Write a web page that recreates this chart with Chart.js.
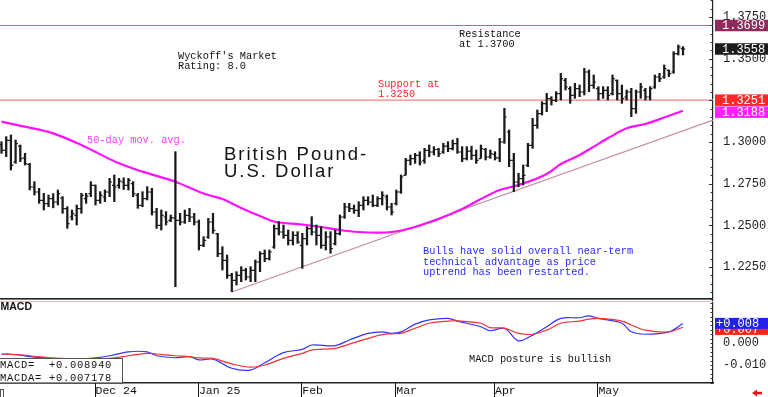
<!DOCTYPE html>
<html>
<head>
<meta charset="utf-8">
<title>British Pound - U.S. Dollar</title>
<script src="https://cdn.jsdelivr.net/npm/chart.js@4"></script>
<style>
  html, body { margin: 0; padding: 0; background: #fff; }
  #wrap { position: relative; width: 768px; height: 397px; overflow: hidden; }
  #priceChart { position: absolute; left: 0; top: 0; }
  #macdChart { position: absolute; left: 0; top: 298px; }
</style>
</head>
<body>
<div id="wrap">
  <canvas id="priceChart" width="768" height="298"></canvas>
  <canvas id="macdChart" width="768" height="99"></canvas>
</div>
<script>
// daily bars, Nov 4 2024 .. May 23 2025 (index = trading day)
const highs = [
  1.3002,1.3032,1.3042,1.3012,1.2982,1.2932,1.2872,1.2762,1.2722,1.2692,
  1.2682,1.2690,1.2712,1.2672,1.2612,1.2592,1.2622,1.2692,1.2692,1.2762,
  1.2742,1.2702,1.2712,1.2782,1.2802,1.2782,1.2785,1.2782,1.2762,1.2692,
  1.2702,1.2732,1.2722,1.2602,1.2592,1.2582,1.2562,1.2942,1.2572,1.2592,
  1.2602,1.2572,1.2532,1.2432,1.2542,1.2572,1.2452,1.2372,1.2322,1.2212,
  1.2222,1.2252,1.2242,1.2252,1.2292,1.2342,1.2352,1.2352,1.2502,1.2522,
  1.2502,1.2472,1.2462,1.2462,1.2452,1.2492,1.2552,1.2502,1.2492,1.2462,
  1.2462,1.2472,1.2562,1.2632,1.2632,1.2622,1.2642,1.2672,1.2672,1.2682,
  1.2672,1.2702,1.2682,1.2632,1.2712,1.2802,1.2902,1.2922,1.2932,1.2942,
  1.2962,1.2982,1.2972,1.2962,1.2992,1.3002,1.3012,1.3022,1.2972,1.2972,
  1.2975,1.2952,1.2982,1.2962,1.2952,1.2942,1.3022,1.3202,1.3072,1.2932,
  1.2812,1.2862,1.2992,1.3142,1.3192,1.3242,1.3292,1.3272,1.3302,1.3412,
  1.3382,1.3332,1.3352,1.3342,1.3442,1.3432,1.3402,1.3332,1.3332,1.3332,
  1.3402,1.3372,1.3342,1.3312,1.3322,1.3312,1.3352,1.3322,1.3332,1.3402,
  1.3412,1.3462,1.3432,1.3542,1.3582,1.3572
];
const lows = [
  1.2932,1.2912,1.2832,1.2872,1.2882,1.2862,1.2712,1.2682,1.2632,1.2592,
  1.2612,1.2605,1.2622,1.2572,1.2482,1.2532,1.2502,1.2572,1.2632,1.2672,
  1.2622,1.2632,1.2642,1.2672,1.2642,1.2722,1.2715,1.2712,1.2672,1.2602,
  1.2612,1.2652,1.2562,1.2482,1.2472,1.2502,1.2522,1.2132,1.2502,1.2512,
  1.2522,1.2502,1.2352,1.2372,1.2422,1.2452,1.2312,1.2232,1.2182,1.2102,
  1.2142,1.2162,1.2172,1.2162,1.2162,1.2222,1.2282,1.2292,1.2362,1.2442,
  1.2422,1.2382,1.2382,1.2392,1.2242,1.2382,1.2442,1.2382,1.2362,1.2352,
  1.2332,1.2382,1.2442,1.2542,1.2582,1.2572,1.2552,1.2592,1.2622,1.2612,
  1.2612,1.2622,1.2592,1.2562,1.2622,1.2692,1.2802,1.2862,1.2872,1.2862,
  1.2872,1.2912,1.2922,1.2912,1.2932,1.2942,1.2952,1.2932,1.2882,1.2892,
  1.2895,1.2872,1.2902,1.2892,1.2902,1.2892,1.2882,1.2992,1.2852,1.2702,
  1.2732,1.2742,1.2852,1.2962,1.3082,1.3162,1.3182,1.3222,1.3242,1.3252,
  1.3312,1.3232,1.3262,1.3272,1.3282,1.3302,1.3322,1.3252,1.3262,1.3252,
  1.3282,1.3252,1.3232,1.3252,1.3152,1.3172,1.3262,1.3252,1.3252,1.3322,
  1.3362,1.3382,1.3392,1.3412,1.3522,1.3522
];
const opens = [
  1.2985,1.2950,1.3010,1.2880,1.2975,1.2905,1.2865,1.2730,1.2700,1.2650,
  1.2630,1.2660,1.2640,1.2665,1.2600,1.2550,1.2560,1.2600,1.2660,1.2690,
  1.2740,1.2650,1.2670,1.2700,1.2740,1.2740,1.2760,1.2740,1.2750,1.2680,
  1.2620,1.2660,1.2700,1.2580,1.2500,1.2550,1.2530,1.2545,1.2530,1.2520,
  1.2560,1.2550,1.2520,1.2380,1.2430,1.2520,1.2450,1.2330,1.2290,1.2200,
  1.2170,1.2200,1.2230,1.2190,1.2230,1.2280,1.2330,1.2300,1.2370,1.2480,
  1.2460,1.2440,1.2410,1.2440,1.2380,1.2420,1.2480,1.2460,1.2440,1.2380,
  1.2430,1.2390,1.2450,1.2550,1.2610,1.2600,1.2590,1.2620,1.2650,1.2640,
  1.2620,1.2660,1.2670,1.2610,1.2630,1.2700,1.2800,1.2890,1.2900,1.2920,
  1.2890,1.2950,1.2940,1.2955,1.2940,1.2975,1.2960,1.2990,1.2940,1.2900,
  1.2945,1.2920,1.2900,1.2955,1.2910,1.2925,1.2905,1.3000,1.3060,1.2890,
  1.2760,1.2780,1.2860,1.2980,1.3100,1.3170,1.3230,1.3260,1.3250,1.3290,
  1.3370,1.3320,1.3280,1.3320,1.3300,1.3420,1.3340,1.3320,1.3290,1.3310,
  1.3290,1.3370,1.3290,1.3270,1.3300,1.3200,1.3300,1.3310,1.3270,1.3330,
  1.3390,1.3390,1.3430,1.3420,1.3530,1.3560
];
const closes = [
  1.2950,1.3010,1.2860,1.2990,1.2900,1.2870,1.2730,1.2700,1.2650,1.2630,
  1.2660,1.2640,1.2690,1.2600,1.2510,1.2570,1.2600,1.2680,1.2675,1.2740,
  1.2650,1.2680,1.2700,1.2760,1.2730,1.2765,1.2740,1.2770,1.2690,1.2620,
  1.2660,1.2700,1.2580,1.2500,1.2560,1.2520,1.2545,1.2530,1.2520,1.2560,
  1.2550,1.2520,1.2380,1.2410,1.2520,1.2470,1.2330,1.2290,1.2200,1.2170,
  1.2200,1.2230,1.2190,1.2230,1.2280,1.2330,1.2300,1.2340,1.2480,1.2460,
  1.2440,1.2410,1.2440,1.2400,1.2420,1.2480,1.2460,1.2440,1.2380,1.2430,
  1.2360,1.2450,1.2550,1.2610,1.2600,1.2590,1.2620,1.2650,1.2640,1.2620,
  1.2660,1.2680,1.2610,1.2580,1.2700,1.2790,1.2890,1.2900,1.2920,1.2880,
  1.2950,1.2940,1.2955,1.2930,1.2975,1.2960,1.2990,1.2940,1.2900,1.2945,
  1.2920,1.2890,1.2960,1.2910,1.2930,1.2905,1.3000,1.3150,1.2890,1.2760,
  1.2780,1.2800,1.2980,1.3100,1.3170,1.3230,1.3260,1.3250,1.3290,1.3380,
  1.3330,1.3280,1.3320,1.3300,1.3420,1.3340,1.3360,1.3290,1.3310,1.3280,
  1.3380,1.3290,1.3260,1.3300,1.3200,1.3300,1.3330,1.3270,1.3320,1.3390,
  1.3380,1.3440,1.3410,1.3530,1.3570,1.3558
];

// 50-day moving average at these bar indices
const maIdx = [0,5,11,17,25,30,37,42,44,47,51,55,58,64,68,72,76,81,85,89,93,98,102,106,110,116,119,123,126,129,133,137,141,145];
const maVal = [1.3122,1.3092,1.3052,1.2982,1.2872,1.2822,1.2762,1.2702,1.2682,1.2658,1.2604,1.2556,1.2523,1.2505,1.2490,1.2472,1.2460,1.2456,1.2469,1.2499,1.2538,1.2598,1.2658,1.2712,1.2742,1.2808,1.2868,1.2922,1.2972,1.3022,1.3082,1.3108,1.3147,1.3188];

// uptrend line from the January low
const trendIdx = [49, 151.4];
const trendVal = [1.2100, 1.3132];

const resistanceLevel = 1.3699;
const supportLevel = 1.3251;
const priceTicks = [1.2250, 1.2500, 1.2750, 1.3000, 1.3250, 1.3500, 1.3750];

// MACD panel
const macdIdx = [0,2,4,6,9,13,17,20,23,27,31,33,37,40,42,45,49,53,56,60,64,66,71,74,78,81,83,85,88,91,95,97,102,104,107,110,113,116,119,123,125,127,132,134,137,142,145];
const macdLine = [-0.0051,-0.0051,-0.0055,-0.0062,-0.0068,-0.0075,-0.0074,-0.0068,-0.0058,-0.0040,-0.0040,-0.0058,-0.0067,-0.0062,-0.0077,-0.0073,-0.0115,-0.0123,-0.0090,-0.0044,-0.0029,-0.0009,-0.0012,0.0014,0.0044,0.0051,0.0044,0.0051,0.0086,0.0105,0.0112,0.0100,0.0074,0.0056,0.0067,0.0010,0.0036,0.0074,0.0112,0.0115,0.0124,0.0112,0.0090,0.0051,0.0040,0.0051,0.0089];
const macdAvg = [-0.0050,-0.0052,-0.0054,-0.0058,-0.0064,-0.0070,-0.0072,-0.0072,-0.0070,-0.0058,-0.0047,-0.0050,-0.0058,-0.0062,-0.0068,-0.0070,-0.0095,-0.0110,-0.0100,-0.0070,-0.0047,-0.0032,-0.0024,-0.0005,0.0021,0.0038,0.0042,0.0044,0.0067,0.0090,0.0100,0.0101,0.0090,0.0070,0.0068,0.0044,0.0040,0.0059,0.0090,0.0100,0.0109,0.0112,0.0100,0.0082,0.0059,0.0051,0.0072];
const macdReading = 0.008940;
const macdaReading = 0.007178;
const macdTicks = [-0.010, 0.000];

const monthIdx = [20, 42, 64, 84, 105, 127];
const monthLabels = ['Dec 24', 'Jan 25', 'Feb', 'Mar', 'Apr', 'May'];

// shared x range so both panels line up
const xMin = -0.32, xMax = 151.38;
const MONO = '"Liberation Mono", "DejaVu Sans Mono", monospace';
const SANS = '"Liberation Sans", Arial, sans-serif';

function put(ctx, lines, x, y, lead, font, color, spacing) {
  ctx.font = font;
  ctx.fillStyle = color;
  ctx.letterSpacing = (spacing || 0) + 'px';
  ctx.textAlign = 'left';
  ctx.textBaseline = 'alphabetic';
  lines.forEach((s, k) => ctx.fillText(s, x, y + k * lead));
}

function axisBox(ctx, top, h, bg, label, tx) {
  ctx.fillStyle = bg;
  ctx.fillRect(715, top, 53, h);
  ctx.fillStyle = '#fff';
  ctx.font = '12px ' + MONO;
  ctx.textBaseline = 'middle';
  ctx.textAlign = 'left';
  ctx.fillText(label, tx || 722, top + h / 2 + 0.5);
}

// axis readout is cut, not rounded
const cut = (v, d) => {
  const s = (Math.floor(Math.abs(v) * 10 ** d) / 10 ** d).toFixed(d);
  return (v >= 0 ? '+' : '-') + s;
};

const priceNotes = {
  id: 'priceNotes',
  afterDatasetsDraw(chart) {
    const { ctx, scales: { x, y } } = chart;
    // open / close ticks
    ctx.save();
    ctx.strokeStyle = '#1a1a1a';
    ctx.lineWidth = 1.2;
    ctx.beginPath();
    for (let i = 0; i < highs.length; i++) {
      const px = x.getPixelForValue(i);
      const yo = y.getPixelForValue(opens[i]);
      const yc = y.getPixelForValue(closes[i]);
      ctx.moveTo(px - 2.3, yo); ctx.lineTo(px, yo);
      ctx.moveTo(px, yc); ctx.lineTo(px + 2.3, yc);
    }
    ctx.stroke();
    ctx.restore();
  },
  afterDraw(chart) {
    const { ctx, scales: { y } } = chart;
    ctx.save();
    const mono = '10.3px ' + MONO;
    put(ctx, ["Wyckoff's Market", 'Rating: 8.0'], 178, 58.7, 10.5, mono, '#111');
    put(ctx, ['Resistance', 'at 1.3700'], 459, 36.5, 10.7, mono, '#111');
    put(ctx, ['Support at', '1.3250'], 378, 86.8, 9.8, mono, '#ff2424');
    put(ctx, ['50-day mov. avg.'], 87, 142.5, 0, mono, '#ff3cff');
    put(ctx, ['British Pound-', 'U.S. Dollar'], 224, 160, 16.7, '18.5px ' + SANS, '#111', 2);
    put(ctx, ['Bulls have solid overall near-term', 'technical advantage as price', 'uptrend has been restarted.'],
        423, 254, 10.5, mono, '#2a2aff');
    ctx.letterSpacing = '0px';

    // small ticks on the price axis
    const ax = y.left;
    ctx.strokeStyle = '#333';
    ctx.lineWidth = 1;
    ctx.beginPath();
    for (let k = 242; k <= 277; k++) {
      const py = Math.round(y.getPixelForValue(k * 0.005)) + 0.5;
      const len = k % 5 === 0 ? 4 : 2.5;
      ctx.moveTo(ax - len, py); ctx.lineTo(ax, py);
    }
    ctx.stroke();

    // value boxes on the axis
    const marks = [
      { v: resistanceLevel, bg: '#8e2a5c' },
      { v: closes[closes.length - 1], bg: '#1c1c1c' },
      { v: supportLevel, bg: '#ff2727' },
      { v: maVal[maVal.length - 1], bg: '#ff22ff' }
    ].map(m => ({ ...m, py: y.getPixelForValue(m.v) })).sort((a, b) => a.py - b.py);
    let prevBottom = -100;
    const h = 11.5;
    marks.forEach(m => {
      const top = Math.max(m.py - h / 2, prevBottom + 0.5);
      axisBox(ctx, top, h, m.bg, m.v.toFixed(4));
      prevBottom = top + h;
    });
    ctx.restore();
  }
};

const macdNotes = {
  id: 'macdNotes',
  afterDraw(chart) {
    const { ctx, scales: { x, y } } = chart;
    const area = chart.chartArea;
    ctx.save();
    // panel separators
    ctx.fillStyle = '#222';
    ctx.fillRect(0, 0, area.right, 1.6);
    ctx.strokeStyle = '#f6b4b4';
    ctx.lineWidth = 1;
    ctx.beginPath();
    const pink = Math.round(y.getPixelForValue(0.019)) + 0.5;
    ctx.moveTo(0, pink); ctx.lineTo(area.right, pink);
    ctx.stroke();

    put(ctx, ['MACD'], 0.5, 12, 0, 'bold 10.5px ' + SANS, '#111');
    put(ctx, ['MACD posture is bullish'], 469, 64, 0, '10.3px ' + MONO, '#111');

    // reading box
    ctx.fillStyle = '#fff';
    ctx.fillRect(0, 60, 122.5, 24.5);
    ctx.strokeStyle = '#555';
    ctx.lineWidth = 1;
    ctx.strokeRect(-1, 60.5, 123.5, 25);
    const f = '10.5px ' + MONO;
    put(ctx, ['MACD=', 'MACDA='], 0, 69.5, 13, f, '#111', 0.7);
    put(ctx, [cut(macdReading, 6), cut(macdaReading, 6)], 49, 69.5, 13, f, '#111', 0.7);
    ctx.letterSpacing = '0px';

    // axis ticks
    const ax = y.left;
    ctx.strokeStyle = '#333';
    ctx.beginPath();
    for (let k = -9; k <= 10; k++) {
      const py = Math.round(y.getPixelForValue(k * 0.002)) + 0.5;
      ctx.moveTo(ax - 2.5, py); ctx.lineTo(ax, py);
    }
    ctx.stroke();

    // month separators below the panel
    ctx.strokeStyle = '#111';
    ctx.beginPath();
    monthIdx.forEach(i => {
      const px = Math.round(x.getPixelForValue(i)) - 0.5;
      ctx.moveTo(px, area.bottom); ctx.lineTo(px, 99);
    });
    ctx.stroke();
    ctx.strokeStyle = '#555';
    ctx.strokeRect(0.5, 91.5, 3, 8);

    // value boxes
    const blueTop = y.getPixelForValue(macdReading) - 5.5;
    const redTop = Math.max(y.getPixelForValue(macdaReading) - 5.5, blueTop + 6);
    axisBox(ctx, redTop, 11, '#f42424', cut(macdaReading, 3), 716);
    axisBox(ctx, blueTop, 11, '#2222e6', cut(macdReading, 3), 716);

    // little red arrow, bottom right
    ctx.fillStyle = '#e8141c';
    ctx.beginPath();
    ctx.moveTo(752, 95); ctx.lineTo(757, 91.5); ctx.lineTo(757, 98.5); ctx.closePath();
    ctx.fill();
    ctx.fillRect(756, 93.8, 6, 2.5);
    ctx.restore();
  }
};

const noPad = s => { s.paddingTop = 0; s.paddingBottom = 0; s.paddingLeft = 0; s.paddingRight = 0; };

new Chart(document.getElementById('priceChart'), {
  type: 'bar',
  data: {
    datasets: [
      {
        type: 'bar',
        data: highs.map((h, i) => ({ x: i, y: [lows[i], h] })),
        backgroundColor: '#1a1a1a',
        borderWidth: 0,
        barThickness: 1.6,
        order: 0
      },
      {
        type: 'line',
        data: maIdx.map((i, k) => ({ x: i, y: maVal[k] })),
        borderColor: '#ff10ff',
        borderWidth: 2.2,
        pointRadius: 0,
        cubicInterpolationMode: 'monotone',
        order: 1
      },
      {
        type: 'line',
        data: trendIdx.map((i, k) => ({ x: i, y: trendVal[k] })),
        borderColor: '#c48c9c',
        borderWidth: 1.2,
        pointRadius: 0,
        order: 2
      },
      {
        type: 'line',
        data: [{ x: xMin, y: resistanceLevel }, { x: xMax, y: resistanceLevel }],
        borderColor: '#c2609a',
        borderWidth: 1.2,
        pointRadius: 0,
        order: 3
      },
      {
        type: 'line',
        data: [{ x: xMin, y: supportLevel }, { x: xMax, y: supportLevel }],
        borderColor: '#f8a4a4',
        borderWidth: 1.8,
        pointRadius: 0,
        order: 3
      }
    ]
  },
  options: {
    responsive: false,
    animation: false,
    devicePixelRatio: 1,
    layout: { padding: 0 },
    plugins: { legend: { display: false }, tooltip: { enabled: false } },
    scales: {
      x: { type: 'linear', display: false, min: xMin, max: xMax, offset: false },
      y: {
        position: 'right',
        min: 1.2064,
        max: 1.3852,
        grid: { display: false, drawTicks: false },
        border: { display: true, color: '#222', width: 1.2 },
        ticks: {
          padding: 10,
          color: '#222',
          font: { family: MONO, size: 12 },
          callback: v => Number(v).toFixed(4)
        },
        afterBuildTicks: a => { a.ticks = priceTicks.map(v => ({ value: v })); },
        afterFit: s => { s.width = 55; noPad(s); }
      }
    }
  },
  plugins: [priceNotes]
});

new Chart(document.getElementById('macdChart'), {
  type: 'line',
  data: {
    datasets: [
      {
        data: macdIdx.map((i, k) => ({ x: i, y: macdAvg[k] })),
        borderColor: '#f43030',
        borderWidth: 1.2,
        pointRadius: 0,
        tension: 0.35
      },
      {
        data: macdIdx.map((i, k) => ({ x: i, y: macdLine[k] })),
        borderColor: '#3434ff',
        borderWidth: 1.2,
        pointRadius: 0,
        tension: 0.35
      }
    ]
  },
  options: {
    responsive: false,
    animation: false,
    devicePixelRatio: 1,
    layout: { padding: 0 },
    plugins: { legend: { display: false }, tooltip: { enabled: false } },
    scales: {
      x: {
        type: 'linear',
        min: xMin,
        max: xMax,
        offset: false,
        grid: { display: false, drawTicks: false },
        border: { display: true, color: '#222', width: 1.5 },
        ticks: {
          align: 'start',
          padding: 1,
          maxRotation: 0,
          autoSkip: false,
          color: '#111',
          font: { family: MONO, size: 11.5 },
          callback: v => monthLabels[monthIdx.indexOf(v)]
        },
        afterBuildTicks: a => { a.ticks = monthIdx.map(v => ({ value: v })); },
        afterFit: s => { s.height = 14; noPad(s); }
      },
      y: {
        position: 'right',
        min: -0.0182,
        max: 0.0205,
        grid: { display: false, drawTicks: false },
        border: { display: true, color: '#222', width: 1.2 },
        ticks: {
          padding: 10,
          color: '#222',
          font: { family: MONO, size: 12 },
          callback: v => Number(v).toFixed(3)
        },
        afterBuildTicks: a => { a.ticks = macdTicks.map(v => ({ value: v })); },
        afterFit: s => { s.width = 55; noPad(s); }
      }
    }
  },
  plugins: [macdNotes]
});
</script>
</body>
</html>
